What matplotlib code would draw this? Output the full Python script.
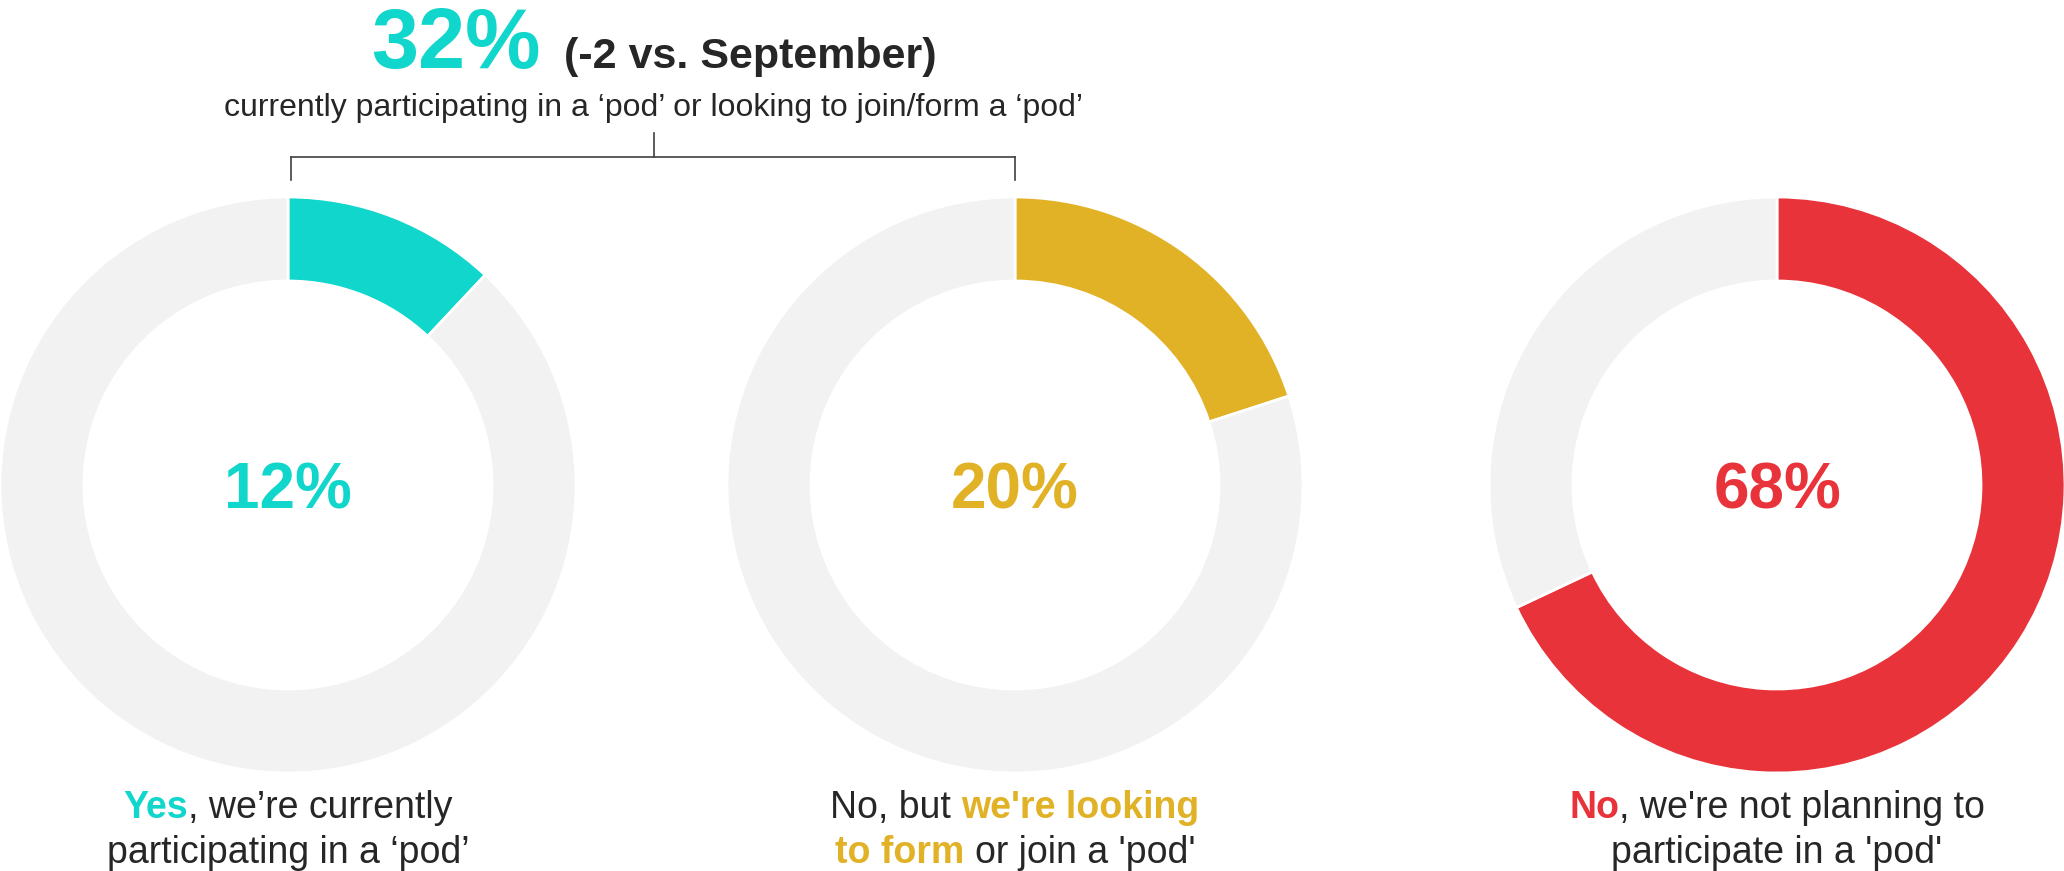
import matplotlib.pyplot as plt

plt.rcParams['font.family'] = ['Liberation Sans', 'DejaVu Sans']

# data
answers = ['yes', 'looking', 'no']
shares = [12, 20, 68]
combined = 32
change = -2

teal = '#10D6CC'
gold = '#E1B126'
red = '#E8333A'
grey = '#F2F2F2'
dark = '#262626'
share_colors = [teal, gold, red]

# label lines: (text, colour, bold)
labels = [
    [[('Yes', teal, True), (', we’re currently', dark, False)],
     [('participating in a ‘pod’', dark, False)]],
    [[('No, but', dark, False), (' we\'re looking', gold, True)],
     [('to form', gold, True), (' or join a \'pod\'', dark, False)]],
    [[('No', red, True), (', we\'re not planning to', dark, False)],
     [('participate in a \'pod\'', dark, False)]],
]

W, H = 2064, 871
fig = plt.figure(figsize=(W / 100, H / 100), dpi=100)
ax = fig.add_axes([0, 0, 1, 1])
ax.set_xlim(0, W)
ax.set_ylim(H, 0)
ax.axis('off')
renderer = fig.canvas.get_renderer()


def draw_line(pieces, cx, y):
    # pieces: (text, colour, bold, size) - laid out left to right, centred on cx
    placed = []
    x = 0
    for txt, col, bold, size in pieces:
        n_lead = len(txt) - len(txt.lstrip(' '))
        x += n_lead * 0.278 * size * 100 / 72
        t = ax.text(0, y, txt.strip(' '), color=col, fontsize=size,
                    weight='bold' if bold else 'normal', ha='left', va='baseline')
        w = t.get_window_extent(renderer=renderer).width
        placed.append((t, x))
        x += w
    start = cx - x / 2
    for t, off in placed:
        t.set_x(start + off)


centres = [288, 1015, 1777]
cy = 485
R = 288
ring = 84

for cx, v, c, lab in zip(centres, shares, share_colors, labels):
    pax = fig.add_axes([(cx - R) / W, (H - cy - R) / H, 2 * R / W, 2 * R / H])
    pax.pie([v, 100 - v], colors=[c, grey], startangle=90, counterclock=False,
            radius=1, wedgeprops=dict(width=ring / R, edgecolor='white', linewidth=2))
    pax.set_xlim(-1, 1)
    pax.set_ylim(-1, 1)
    ax.text(cx, 508, f'{v}%', color=c, fontsize=46, weight='bold',
            ha='center', va='baseline')
    for i, line in enumerate(lab):
        draw_line([(t, col, b, 27) for t, col, b in line], cx, 818 + i * 45)

# headline
draw_line([(f'{combined}%', teal, True, 61),
           (f'  ({change} vs. September)', dark, True, 31)], 654, 68)
draw_line([('currently participating in a ‘pod’ or looking to join/form a ‘pod’',
            dark, False, 23)], 654, 116)

# bracket over the first two donuts
bc = '#404040'
ax.plot([654, 654], [133, 157], color=bc, lw=1.2)
ax.plot([centres[0] + 3, centres[1]], [157, 157], color=bc, lw=1.2)
ax.plot([centres[0] + 3, centres[0] + 3], [157, 180], color=bc, lw=1.2)
ax.plot([centres[1], centres[1]], [157, 180], color=bc, lw=1.2)

fig.savefig('out.png', dpi=100)
